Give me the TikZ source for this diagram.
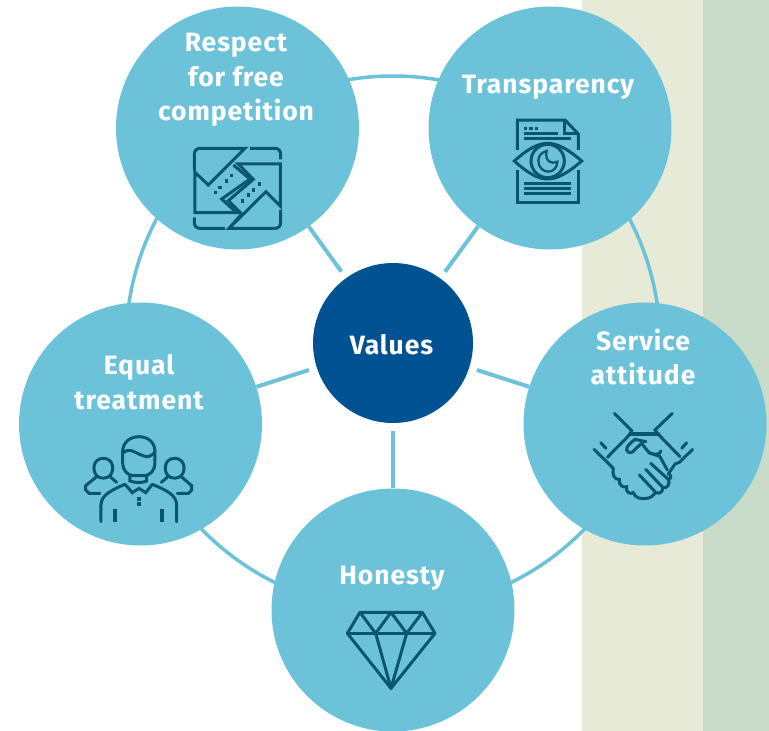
\documentclass[tikz,border=0pt]{standalone}
\usepackage{fontspec}
\setmainfont[LetterSpace=3.5]{Fira Sans}
\definecolor{disc}{HTML}{6CC3D9}
\definecolor{core}{HTML}{005293}
\definecolor{ink}{HTML}{0B5570}
\definecolor{sand}{HTML}{E6EAD6}
\definecolor{sage}{HTML}{C9DCCA}
\tikzset{
  valuedisc/.style={circle,fill=disc,minimum size=243pt,inner sep=0pt},
  coredisc/.style={circle,fill=core,minimum size=160pt,inner sep=0pt},
  caption/.style={text=white,align=center,inner sep=0pt,font=\fontsize{26.5}{34.5}\selectfont\bfseries},
  linkline/.style={disc,line width=4pt,shorten <=8pt},
  ringline/.style={disc,line width=3.5pt},
  icon/.style={ink,line width=3pt,line join=miter,line cap=butt,x=0.3333pt,y=-0.3333pt},
  dot/.style={fill=ink}
}
\begin{document}
\begin{tikzpicture}[x=1pt,y=-1pt]
\useasboundingbox (0,0) rectangle (769,731);
\clip (0,0) rectangle (769,731);
\fill[sand] (582,0) rectangle (703,731);
\fill[sage] (703,0) rectangle (769,731);
\coordinate (ringc) at (393,343);
\draw[ringline] (ringc) circle[radius=267pt];
\node[valuedisc] (respect) at (237.5,128) {};
\node[valuedisc] (transp) at (550,128) {};
\node[valuedisc] (service) at (645,424) {};
\node[valuedisc] (equal) at (140.5,424) {};
\node[valuedisc] (honesty) at (393,610) {};
\node[coredisc] (values) at (393,343) {};
\draw[linkline] (values) -- (respect);
\draw[linkline] (values) -- (transp);
\draw[linkline] (values) -- (service);
\draw[linkline] (values) -- (equal);
\draw[linkline] (values) -- (honesty);
\node[caption] (t0) at (391.5,345) {Values};
\node[caption] (t1) at (236,80) {Respect\\for free\\competition};
\node[caption] (t2) at (548,87) {Transparency};
\node[caption] (t3) at (643,357) {Service\\attitude};
\node[caption] (t4) at (139,382) {Equal\\treatment};
\node[caption] (t5) at (392,578) {Honesty};
% icon: competition
\begin{scope}[shift={(170,130)},icon]
\draw (73,122) -- (73,72) .. controls (73,62) and (80,55) .. (90,55) -- (225,55) -- (115,165) -- (75,127) -- (75,248) -- (200,248) -- (155,207) -- (240,147) -- (190,105);
\draw (332,240) -- (332,278) .. controls (332,288) and (325,295) .. (315,295) -- (177,295) -- (288,185) -- (331,228) -- (331,102) -- (205,102) -- (250,148) -- (175,212) -- (215,252) -- (177,295);
\draw (240,55) -- (315,55) .. controls (325,55) and (332,62) .. (332,72) -- (332,88);
\draw (73,262) -- (73,278) .. controls (73,288) and (80,295) .. (90,295) -- (165,295);
\foreach \a/\b in {137/187,150/172,170/153,185/137,217/213,235/195,250/180,268/162}
  \fill[dot] (\a-5,\b-5) rectangle (\a+5,\b+5);
\end{scope}
% icon: document and eye
\begin{scope}[shift={(495,105)},icon]
\draw (67,135) -- (67,45) -- (210,45) -- (250,87) -- (250,135);
\draw (210,45) -- (210,87) -- (250,87);
\draw (67,195) -- (67,292) -- (250,292) -- (250,195);
\foreach \a in {92,108,124} \fill[dot] (\a-5,65) rectangle (\a+5,75);
\draw (87,85) -- (188,85);
\draw (87,102) -- (228,102);
\draw (87,235) -- (228,235);
\draw (87,250) -- (228,250);
\draw (87,265) -- (228,265);
\draw (58,168) .. controls (100,130) and (130,115) .. (158,115) .. controls (186,115) and (216,130) .. (260,168) .. controls (216,206) and (186,222) .. (158,222) .. controls (130,222) and (100,206) .. (58,168) -- cycle;
\draw (158,168) ellipse[x radius=50,y radius=50];
\draw[line width=2.2pt] (155,138) .. controls (138,142) and (130,155) .. (130,167) .. controls (130,188) and (145,200) .. (160,200) .. controls (175,200) and (187,188) .. (187,170) .. controls (170,180) and (148,168) .. (155,138) -- cycle;
\end{scope}
% icon: people
\begin{scope}[shift={(75,425)},icon,line cap=round]
\draw (143,115) -- (143,80) .. controls (143,52) and (165,35) .. (192,35) .. controls (219,35) and (240,52) .. (240,80) -- (240,115) .. controls (240,135) and (225,152) .. (208,152) -- (175,152) .. controls (158,152) and (143,135) .. (143,115) -- cycle;
\draw (143,85) .. controls (165,62) and (185,90) .. (215,95) .. controls (225,95) and (235,88) .. (240,80);
\draw (165,152) -- (165,168) .. controls (180,174) and (203,174) .. (215,168) -- (215,152);
\draw (150,178) -- (172,203) -- (192,190) -- (212,203) -- (232,178);
\draw (78,290) -- (78,240) .. controls (78,210) and (110,195) .. (150,178);
\draw (305,290) -- (305,240) .. controls (305,210) and (273,195) .. (232,178);
\draw[line width=4pt,line cap=butt] (120,252) -- (120,292);
\draw[line width=4pt,line cap=butt] (262,252) -- (262,292);
\fill[dot] (187,217) rectangle (197,227);
\fill[dot] (187,232) rectangle (197,242);
\draw (65,152) .. controls (50,135) and (55,100) .. (85,100) .. controls (115,100) and (120,135) .. (105,152) .. controls (95,162) and (75,162) .. (65,152) -- cycle;
\draw (105,155) -- (125,172);
\draw (65,155) -- (32,182) -- (32,195) -- (42,205) -- (75,205);
\draw (319,152) .. controls (334,135) and (329,100) .. (299,100) .. controls (269,100) and (264,135) .. (279,152) .. controls (289,162) and (309,162) .. (319,152) -- cycle;
\draw (279,155) -- (259,172);
\draw (319,155) -- (350,182) -- (350,195) -- (340,205) -- (307,205);
\end{scope}
% icon: handshake
\begin{scope}[shift={(580,400)},icon,line cap=round]
\draw (103,40) -- (155,92) -- (150,103) -- (82,172);
\draw (42,148) -- (82,187) -- (100,205);
\draw (277,40) -- (225,90) -- (235,103) -- (300,170);
\draw (338,148) -- (298,187) -- (285,192) -- (265,222);
\draw[line width=4pt] (150,103) -- (235,103);
\draw (62,128) -- (78,145);
\draw (320,128) -- (305,145);
\draw (198,125) -- (165,118) .. controls (150,130) and (138,140) .. (140,150) .. controls (145,162) and (158,160) .. (165,148) -- (185,130) -- (207,158) .. controls (225,165) and (240,165) .. (243,153);
\draw (207,158) -- (240,170) -- (262,210);
\draw (100,205) .. controls (95,225) and (105,240) .. (118,238) .. controls (115,255) and (130,265) .. (140,260) .. controls (135,275) and (150,285) .. (160,278) .. controls (165,295) and (185,298) .. (200,295) .. controls (212,295) and (220,285) .. (225,280);
\draw (178,225) -- (228,278) .. controls (240,285) and (252,270) .. (248,262);
\draw (197,208) -- (248,262) .. controls (262,268) and (272,250) .. (265,238);
\draw (212,190) -- (265,238) .. controls (275,235) and (275,225) .. (265,222);
\end{scope}
% icon: diamond
\begin{scope}[shift={(335,600)},icon,line join=round]
\draw (75,37) -- (262,37) -- (300,100) -- (168,265) -- (37,100) -- cycle;
\draw (37,100) -- (300,100);
\draw (75,37) -- (122,100) -- (168,37) -- (215,100) -- (262,37);
\draw (122,100) -- (168,265) -- (215,100);
\end{scope}
\end{tikzpicture}
\end{document}
